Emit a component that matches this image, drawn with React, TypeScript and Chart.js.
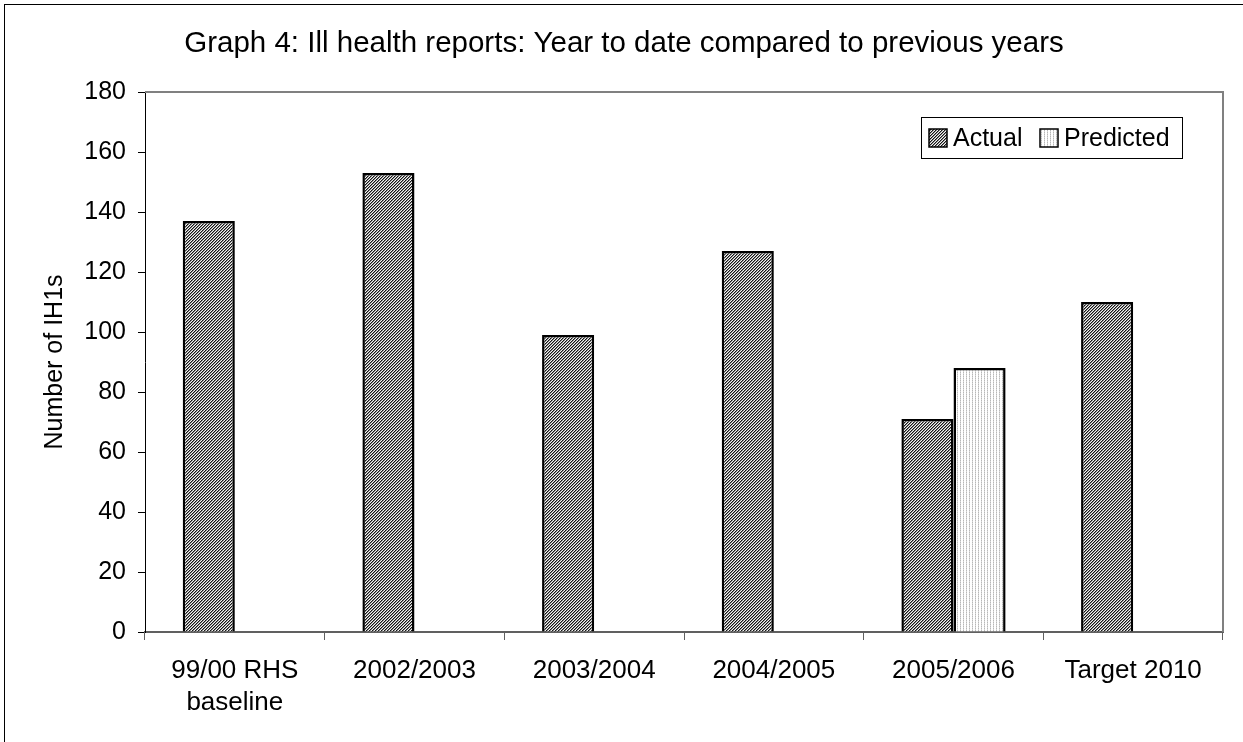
import React, { useEffect, useRef } from 'react';
import Chart from 'chart.js/auto';

// data
const categories: (string | string[])[] = [
  ['99/00 RHS', 'baseline'],
  '2002/2003',
  '2003/2004',
  '2004/2005',
  '2005/2006',
  'Target 2010',
];
const actualValues: (number | null)[] = [137, 153, 99, 127, 71, 110];
const predictedValues: (number | null)[] = [null, null, null, null, 88, null];
const seriesNames = ['Actual', 'Predicted'];
const yMin = 0;
const yMax = 180;
const yStep = 20;
const chartTitle = 'Graph 4: Ill health reports: Year to date compared to previous years';
const yAxisTitle = 'Number of IH1s';

const FONT = "'Liberation Sans', Arial, sans-serif";

// small hatch tiles like the old Excel fills
const makeHatch = (): CanvasPattern | string => {
  const c = document.createElement('canvas');
  c.width = 3;
  c.height = 3;
  const g = c.getContext('2d');
  if (!g) return '#888';
  const shades = ['#151515', '#8a8a8a', '#f4f4f4'];
  for (let x = 0; x < 3; x++) {
    for (let y = 0; y < 3; y++) {
      g.fillStyle = shades[(x + y) % 3];
      g.fillRect(x, y, 1, 1);
    }
  }
  return g.createPattern(c, 'repeat') || '#888';
};

const makeDots = (): CanvasPattern | string => {
  const c = document.createElement('canvas');
  c.width = 3;
  c.height = 2;
  const g = c.getContext('2d');
  if (!g) return '#eee';
  g.fillStyle = '#ffffff';
  g.fillRect(0, 0, 3, 2);
  g.fillStyle = '#b8b8b8';
  g.fillRect(0, 0, 1, 1);
  g.fillStyle = '#d8d8d8';
  g.fillRect(0, 1, 1, 1);
  return g.createPattern(c, 'repeat') || '#eee';
};

const App: React.FC = () => {
  const canvasRef = useRef<HTMLCanvasElement | null>(null);
  const chartRef = useRef<Chart | null>(null);

  useEffect(() => {
    const ctx = canvasRef.current?.getContext('2d');
    if (!ctx) return;
    if (chartRef.current) chartRef.current.destroy();

    const hatch = makeHatch();
    const dots = makeDots();

    // plot frame (top + right grey lines) and title
    const framePlugin = {
      id: 'frame',
      afterDraw(chart: Chart) {
        const { ctx: c, chartArea } = chart;
        c.save();
        c.strokeStyle = '#808080';
        c.lineWidth = 2;
        c.beginPath();
        c.moveTo(chartArea.left, chartArea.top);
        c.lineTo(chartArea.right, chartArea.top);
        c.lineTo(chartArea.right, chartArea.bottom);
        c.stroke();

        c.fillStyle = '#000';
        c.font = `29.5px ${FONT}`;
        c.textAlign = 'center';
        c.textBaseline = 'middle';
        c.fillText(chartTitle, 624, 44);
        c.restore();
      },
    };

    // legend box inside the plot, top right
    const legendPlugin = {
      id: 'boxLegend',
      afterDraw(chart: Chart) {
        const { ctx: c, chartArea } = chart;
        const x0 = chartArea.right - 302;
        const y0 = chartArea.top + 25;
        c.save();
        c.fillStyle = '#fff';
        c.fillRect(x0, y0, 261, 41);
        c.strokeStyle = '#000';
        c.lineWidth = 1;
        c.strokeRect(x0 + 0.5, y0 + 0.5, 261, 41);
        c.font = `25px ${FONT}`;
        c.textBaseline = 'middle';
        c.textAlign = 'left';
        const items = chart.data.datasets.map((d, i) => ({
          label: seriesNames[i],
          fill: d.backgroundColor as any,
        }));
        const markerX = [x0 + 8, x0 + 119];
        items.forEach((it, i) => {
          const mx = markerX[i];
          c.fillStyle = it.fill;
          c.fillRect(mx, y0 + 12, 18, 18);
          c.lineWidth = 1.5;
          c.strokeStyle = '#000';
          c.strokeRect(mx, y0 + 12, 18, 18);
          c.fillStyle = '#000';
          c.fillText(it.label, mx + 24, y0 + 22);
        });
        c.restore();
      },
    };

    chartRef.current = new Chart(ctx, {
      type: 'bar',
      data: {
        labels: categories,
        datasets: [
          {
            label: seriesNames[0],
            data: actualValues,
            backgroundColor: hatch as any,
            borderColor: '#000',
            borderWidth: 2.5,
            categoryPercentage: 0.58,
            barPercentage: 1,
          },
          {
            label: seriesNames[1],
            data: predictedValues,
            backgroundColor: dots as any,
            borderColor: '#000',
            borderWidth: 2.5,
            categoryPercentage: 0.58,
            barPercentage: 1,
          },
        ],
      },
      options: {
        animation: false,
        responsive: true,
        maintainAspectRatio: false,
        layout: { padding: { left: 0, right: 20, top: 92, bottom: 0 } },
        plugins: {
          legend: { display: false },
          title: { display: false },
          tooltip: { enabled: false },
        },
        scales: {
          x: {
            grid: {
              drawOnChartArea: false,
              drawTicks: true,
              tickLength: 8,
              color: '#606060',
              offset: true,
            },
            border: { color: '#606060', width: 2 },
            ticks: {
              color: '#000',
              font: { family: FONT, size: 26, lineHeight: 1.22 },
              padding: 15,
              maxRotation: 0,
              autoSkip: false,
            },
            afterFit(scale: any) {
              scale.height = 110;
            },
          },
          y: {
            min: yMin,
            max: yMax,
            grid: {
              drawOnChartArea: false,
              drawTicks: true,
              tickLength: 7,
              color: '#000',
            },
            border: { color: '#000', width: 1 },
            ticks: {
              stepSize: yStep,
              color: '#000',
              font: { family: FONT, size: 25 },
              padding: 12,
            },
            title: {
              display: true,
              text: yAxisTitle,
              color: '#000',
              font: { family: FONT, size: 25 },
              padding: { top: 40, bottom: 0 },
            },
            afterFit(scale: any) {
              scale.width = 145;
            },
          },
        },
      },
      plugins: [framePlugin, legendPlugin],
    });

    return () => {
      if (chartRef.current) {
        chartRef.current.destroy();
        chartRef.current = null;
      }
    };
  }, []);

  return (
    <div style={{ position: 'fixed', left: 0, top: 0, width: 1243, height: 742, overflow: 'hidden', background: '#fff' }}>
      <div
        style={{
          position: 'absolute',
          left: 4,
          top: 4,
          width: 1300,
          height: 800,
          border: '1.5px solid #000',
        }}
      />
      <div style={{ position: 'absolute', left: 0, top: 0, width: 1243, height: 742 }}>
        <canvas ref={canvasRef} />
      </div>
    </div>
  );
};

export default App;
